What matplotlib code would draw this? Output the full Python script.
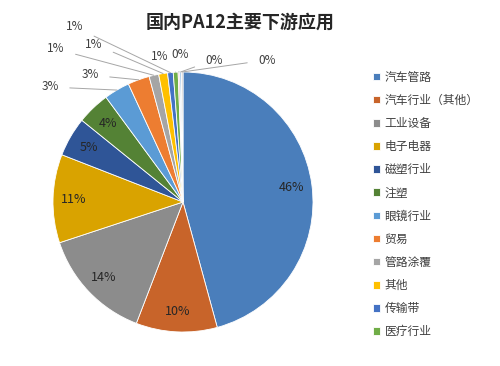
import numpy as np
import matplotlib
matplotlib.use("Agg")
import matplotlib.pyplot as plt

plt.rcParams['font.family'] = ['Noto Sans CJK SC', 'DejaVu Sans']

# 国内PA12下游应用占比（%），后三项图例中未显示
categories = ['汽车管路', '汽车行业（其他）', '工业设备', '电子电器', '磁塑行业', '注塑',
              '眼镜行业', '贸易', '管路涂覆', '其他', '传输带', '医疗行业',
              '其他2', '其他3', '其他4']
values = [45.8, 10.1, 14.1, 11.0, 4.9, 4.1, 3.2, 2.7, 1.2, 1.1, 0.7, 0.6, 0.2, 0.2, 0.2]
colors = ['#4A7EBB', '#C8642A', '#8C8C8C', '#D9A300', '#2F5597', '#548235',
          '#5B9BD5', '#ED7D31', '#A5A5A5', '#FFC000', '#4472C4', '#70AD47',
          '#F4B6B6', '#9DC3E6', '#C9C9C9']
n_legend = 12

# 外部标签位置（像素，左上角为原点）
outside_pos = {6: (50, 87), 7: (90, 75), 8: (56, 49), 9: (94, 44), 10: (75, 27),
               11: (160, 57), 12: (180, 54), 13: (214, 60), 14: (267, 60)}

W, H = 500, 366
cx, cy, R = 183, 202, 130

fig = plt.figure(figsize=(W / 100, H / 100), dpi=100)
ax = fig.add_axes([0, 0, 1, 1])


def px(x, y):
    return (x - cx) / R, (cy - y) / R


wedges, _ = ax.pie(values, colors=colors, startangle=90, counterclock=False,
                   radius=1, wedgeprops=dict(edgecolor='white', linewidth=0.6))
ax.set_xlim(-cx / R, (W - cx) / R)
ax.set_ylim(-(H - cy) / R, cy / R)
ax.axis('off')

total = sum(values)
for i, w in enumerate(wedges):
    pct = '%d%%' % round(values[i] / total * 100)
    mid = np.deg2rad((w.theta1 + w.theta2) / 2)
    if i in outside_pos:
        tx, ty = px(*outside_pos[i])
        ex, ey = np.cos(mid), np.sin(mid)
        ax.annotate(pct, xy=(ex, ey), xytext=(tx, ty), fontsize=8.5, color='#404040',
                    ha='center', va='center',
                    arrowprops=dict(arrowstyle='-', color='#A6A6A6', lw=0.7,
                                    shrinkA=6, shrinkB=0))
    else:
        r = 0.84
        ax.text(r * np.cos(mid), r * np.sin(mid), pct, fontsize=9, color='#262626',
                ha='center', va='center')

fig.text(240 / W, 1 - 22 / H, '国内PA12主要下游应用', fontsize=13, fontweight='bold',
         ha='center', va='center', color='#262626')

ax.legend(wedges[:n_legend], categories[:n_legend], loc='upper left',
          bbox_to_anchor=(362 / W, 1 - 60 / H), frameon=False, fontsize=8.5,
          handlelength=0.6, handleheight=0.6, handletextpad=0.4, labelspacing=0.86,
          labelcolor='#404040')

fig.savefig('out.png', dpi=100)
